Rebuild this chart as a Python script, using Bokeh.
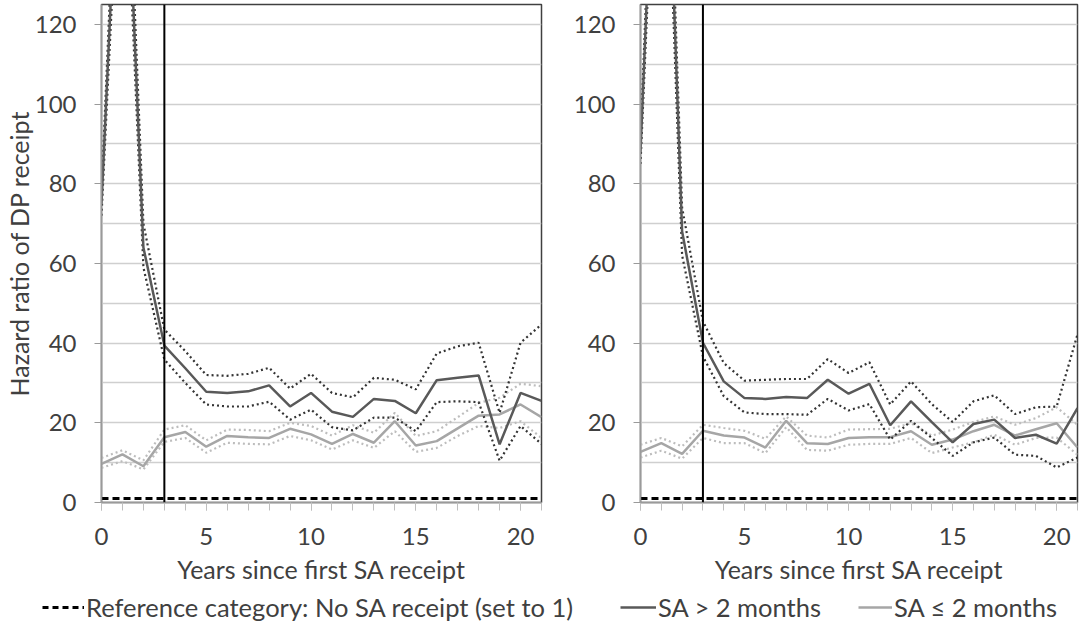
from bokeh.plotting import figure
from bokeh.layouts import column, row
from bokeh.models import Range1d, FixedTicker, Span, Legend, LegendItem
from bokeh.embed import file_html
from bokeh.resources import INLINE

# ---------------- data ----------------
years = [0, 1, 2, 3, 4, 5, 6, 7, 8, 9, 10, 11, 12, 13, 14, 15, 16, 17, 18, 19, 20, 21]
x_tick_labels = [0, 5, 10, 15, 20]
y_tick_labels = [0, 20, 40, 60, 80, 100, 120]
reference = [1, 1, 1, 1, 1, 1, 1, 1, 1, 1, 1, 1, 1, 1, 1, 1, 1, 1, 1, 1, 1, 1]

# left panel
left_long = [75, 190, 64, 39.4, 33.7, 27.8, 27.5, 27.9, 29.4, 24.1, 27.5, 22.8, 21.5, 26.0, 25.5, 22.4, 30.7, 31.3, 31.9, 14.6, 27.5, 25.5]
left_long_hi = [78, 200, 70, 43.4, 38.0, 32.0, 31.8, 32.3, 33.8, 28.6, 32.3, 27.5, 26.4, 31.3, 30.8, 28.4, 37.4, 39.2, 40.1, 22.5, 40.1, 44.7]
left_long_lo = [72, 180, 59, 35.9, 30.0, 24.6, 24.1, 24.1, 25.3, 20.8, 23.3, 18.9, 18.1, 21.3, 21.3, 17.9, 25.2, 25.4, 25.2, 10.5, 19.2, 14.7]
left_short = [9.7, 12.1, 9.1, 16.4, 17.7, 14.0, 16.7, 16.4, 16.2, 18.5, 17.1, 14.7, 17.2, 15.0, 20.4, 14.3, 15.4, 18.6, 21.8, 22.1, 24.6, 21.4]
left_short_hi = [11.2, 13.1, 10.6, 18.3, 19.4, 15.6, 18.3, 18.2, 17.9, 20.0, 19.2, 16.8, 19.4, 17.5, 22.5, 16.7, 17.9, 21.4, 25.0, 26.3, 29.8, 29.2]
left_short_lo = [8.7, 10.4, 8.3, 15.2, 16.2, 12.5, 15.0, 14.7, 14.6, 16.7, 15.6, 13.3, 15.6, 13.7, 17.9, 12.7, 13.7, 16.7, 19.2, 18.7, 20.4, 16.2]

# right panel
right_long = [88, 215, 68, 40.1, 30.4, 26.2, 26.0, 26.5, 26.2, 30.8, 27.3, 29.8, 19.4, 25.4, 20.2, 15.1, 19.7, 20.8, 16.2, 17.0, 14.8, 23.7]
right_long_hi = [91, 225, 74, 45.5, 35.0, 30.6, 30.8, 31.0, 31.0, 36.0, 32.5, 35.2, 24.6, 30.4, 24.7, 20.2, 25.4, 26.9, 22.2, 23.9, 24.1, 42.2]
right_long_lo = [85, 205, 62, 36.7, 26.7, 22.6, 22.2, 22.2, 22.0, 26.0, 23.1, 24.7, 15.8, 20.5, 16.2, 11.7, 15.1, 16.3, 12.0, 11.7, 8.8, 11.3]
right_short = [12.7, 14.9, 12.2, 18.0, 16.8, 16.3, 13.8, 20.5, 14.9, 14.7, 16.2, 16.4, 16.4, 17.9, 14.5, 15.8, 17.9, 19.5, 16.8, 18.4, 19.9, 13.8]
right_short_hi = [14.5, 16.2, 14.1, 19.5, 18.7, 18.0, 16.0, 21.6, 16.8, 16.3, 18.3, 18.4, 18.5, 19.9, 16.8, 18.3, 20.2, 21.6, 19.5, 21.2, 23.9, 19.5]
right_short_lo = [11.3, 13.0, 11.0, 16.2, 14.9, 14.9, 12.4, 18.9, 13.2, 13.0, 14.5, 14.7, 14.7, 16.2, 12.4, 13.8, 15.1, 17.0, 14.5, 16.2, 16.3, 12.0]

cutoff_year = 3

# ---------------- styles ----------------
FONT = "Lato"
TXT = "#404040"
DARK = "#595959"
DARK_CI = "#333333"
LIGHT = "#A6A6A6"
LIGHT_CI = "#BDBDBD"
GRID = "#CFCFCF"

TOP = 4
FRAME_H = 498
PANEL_H = 592


def make_panel(width, border_left, border_right, long_, long_hi, long_lo, short, short_hi, short_lo, ylabel):
    p = figure(width=width, height=PANEL_H, output_backend="svg", toolbar_location=None,
               x_range=Range1d(0, 21), y_range=Range1d(0, 125),
               min_border_left=border_left, min_border_right=border_right,
               min_border_top=TOP, min_border_bottom=PANEL_H - FRAME_H - TOP)
    p.outline_line_color = "#404040"
    p.outline_line_width = 1.5
    p.background_fill_color = "white"
    p.border_fill_color = "white"

    # x axis
    xa = p.xaxis[0]
    xa.ticker = FixedTicker(ticks=x_tick_labels, minor_ticks=years)
    xa.axis_line_color = "#9A9A9A"
    xa.axis_line_width = 1.5
    xa.major_tick_line_color = "#BFBFBF"
    xa.minor_tick_line_color = "#BFBFBF"
    xa.major_tick_out = 8
    xa.major_tick_in = 0
    xa.minor_tick_out = 8
    xa.minor_tick_in = 0
    xa.major_label_text_font = FONT
    xa.major_label_text_font_size = "24px"
    xa.major_label_text_color = TXT
    xa.major_label_standoff = 17
    xa.axis_label = "Years since first SA receipt"
    xa.axis_label_text_font = FONT
    xa.axis_label_text_font_size = "25px"
    xa.axis_label_text_font_style = "normal"
    xa.axis_label_text_color = TXT
    xa.axis_label_standoff = 6

    # y axis
    ya = p.yaxis[0]
    ya.ticker = FixedTicker(ticks=y_tick_labels, minor_ticks=[10, 30, 50, 70, 90, 110])
    ya.axis_line_color = "#9A9A9A"
    ya.axis_line_width = 1.5
    ya.major_tick_line_color = "#9A9A9A"
    ya.major_tick_out = 7
    ya.major_tick_in = 0
    ya.minor_tick_line_color = None
    ya.major_label_text_font = FONT
    ya.major_label_text_font_size = "24px"
    ya.major_label_text_color = TXT
    ya.major_label_standoff = 18
    if ylabel:
        ya.axis_label = ylabel
        ya.axis_label_text_font = FONT
        ya.axis_label_text_font_size = "25px"
        ya.axis_label_text_font_style = "normal"
        ya.axis_label_text_color = TXT
        ya.axis_label_standoff = -2

    p.xgrid.grid_line_color = None
    p.ygrid.grid_line_color = GRID
    p.ygrid.grid_line_width = 1.5
    p.ygrid.minor_grid_line_color = GRID
    p.ygrid.minor_grid_line_width = 1.5

    # reference line
    p.line(years, reference, line_color="black", line_width=3, line_dash="7 4")
    # short SA
    p.line(years, short_hi, line_color=LIGHT_CI, line_width=2.2, line_dash="2 3")
    p.line(years, short_lo, line_color=LIGHT_CI, line_width=2.2, line_dash="2 3")
    p.line(years, short, line_color=LIGHT, line_width=2.5)
    # long SA
    p.line(years, long_hi, line_color=DARK_CI, line_width=2.2, line_dash="2 3")
    p.line(years, long_lo, line_color=DARK_CI, line_width=2.2, line_dash="2 3")
    p.line(years, long_, line_color=DARK, line_width=2.5)

    p.add_layout(Span(location=cutoff_year, dimension="height", line_color="black", line_width=2))
    return p


p1 = make_panel(570, 101, 29, left_long, left_long_hi, left_long_lo,
                left_short, left_short_hi, left_short_lo, "Hazard ratio of DP receipt")
p2 = make_panel(510, 69, 3, right_long, right_long_hi, right_long_lo,
                right_short, right_short_hi, right_short_lo, None)

# legend strip (its renderers sit outside the visible ranges; only their legend glyphs show)
p3 = figure(width=1080, height=30, output_backend="svg", toolbar_location=None,
            x_range=Range1d(100, 101), y_range=Range1d(100, 101),
            min_border=0, outline_line_color=None)
p3.axis.visible = False
p3.grid.visible = False
r_ref = p3.line(years, reference, line_color="black", line_width=3, line_dash="6 4")
r_long = p3.line(years, left_long, line_color=DARK, line_width=2.5)
r_short = p3.line(years, left_short, line_color=LIGHT, line_width=2.5)

legend_specs = [
    ("Reference category: No SA receipt (set to 1)", r_ref, 42, 42),
    ("SA > 2 months", r_long, 620, 36),
    ("SA \u2264 2 months", r_short, 858, 34),
]
for label, rend, xloc, gw in legend_specs:
    lg = Legend(items=[LegendItem(label=label, renderers=[rend])],
                orientation="horizontal", location=(xloc, 0), glyph_width=gw, glyph_height=26,
                label_standoff=2, padding=0, margin=0,
                border_line_color=None, background_fill_alpha=0,
                label_text_font=FONT, label_text_font_size="25.5px", label_text_color=TXT)
    p3.add_layout(lg)

layout = column(row(p1, p2), p3)
open("out.html", "w").write(file_html(layout, INLINE))
